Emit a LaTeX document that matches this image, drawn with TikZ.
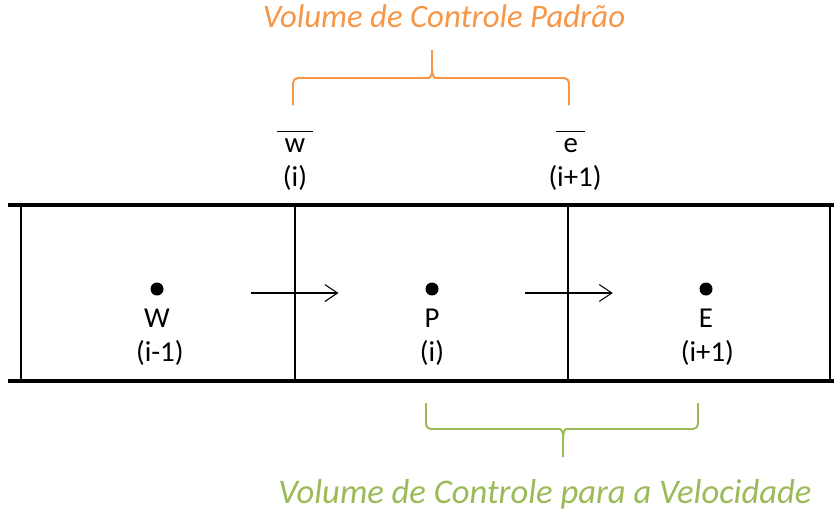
\documentclass[tikz,border=0pt]{standalone}
\usepackage{fontspec}
\setmainfont{Carlito}
\usetikzlibrary{arrows.meta, positioning, calc}
\definecolor{CVorange}{HTML}{F79646}
\definecolor{CVgreen}{HTML}{9BBB59}
\newcommand{\facebar}[1]{$\overline{\hbox{\vphantom{l}\hspace{0.25em}#1\hspace{0.25em}}}$}

\begin{document}
\begin{tikzpicture}[
    x=0.025cm, y=-0.025cm,
    wall_line/.style={
        draw=black,
        line width=2.5pt
    },
    face_line/.style={
        draw=black,
        line width=0.9pt
    },
    point_dot/.style={
        circle,
        fill=black,
        inner sep=0pt,
        minimum size=0.325cm
    },
    cell_label/.style={
        font=\fontsize{20.5}{24}\selectfont,
        inner sep=0pt,
        color=black
    },
    flow_arrow/.style={
        -{Straight Barb[length=9pt, width=12pt]},
        line width=0.75pt,
        color=black
    },
    brace_line/.style={
        line width=1.4pt,
        rounded corners=3.5pt
    },
    brace_title/.style={
        font=\fontsize{24}{28}\selectfont\itshape,
        inner sep=0pt,
        anchor=base
    }
]
\useasboundingbox (0,0) rectangle (834,515);

% =========================
% CHANNEL
% =========================
\draw[wall_line] (8,205) -- (834,205);
\draw[wall_line] (8,381) -- (834,381);

\coordinate (fw_top) at (295,205);
\coordinate (fw_bot) at (295,381);
\coordinate (fe_top) at (568,205);
\coordinate (fe_bot) at (568,381);

\draw[face_line] (21,205) -- (21,381);
\draw[face_line] (fw_top) -- (fw_bot);
\draw[face_line] (fe_top) -- (fe_bot);
\draw[face_line] (830,205) -- (830,381);

% =========================
% NODAL POINTS
% =========================
\node[point_dot] (W) at (157,289) {};
\node[point_dot] (P) at (432,289) {};
\node[point_dot] (E) at (706,289) {};

\node[cell_label, below=0.79cm of W, anchor=base] (W_name) {W};
\node[cell_label, below=0.85cm of W_name.base, anchor=base, xshift=2pt] (W_idx) {(i-1)};
\node[cell_label, below=0.79cm of P, anchor=base] (P_name) {P};
\node[cell_label, below=0.85cm of P_name.base, anchor=base] (P_idx) {(i)};
\node[cell_label, below=0.79cm of E, anchor=base] (E_name) {E};
\node[cell_label, below=0.85cm of E_name.base, anchor=base, xshift=1pt] (E_idx) {(i+1)};

% =========================
% FACES
% =========================
\node[cell_label, above=1.3cm of fw_top, anchor=base] (w_name) {\facebar{w}};
\node[cell_label, below=0.825cm of w_name.base, anchor=base] (w_idx) {(i)};
\node[cell_label, above=1.3cm of fe_top, anchor=base, xshift=2pt] (e_name) {\facebar{e}};
\node[cell_label, below=0.825cm of e_name.base, anchor=base, xshift=3pt] (e_idx) {(i+1)};

% =========================
% VELOCITIES
% =========================
\draw[flow_arrow] ($(W)!0.34!(P)+(0,4)$) -- ($(W)!0.66!(P)+(0,4)$);
\draw[flow_arrow] ($(P)!0.34!(E)+(0,4)$) -- ($(P)!0.66!(E)+(0,4)$);

% =========================
% BRACES
% =========================
% standard control volume
\draw[brace_line, CVorange]
    (293,105) |- (424,78) .. controls (430,78) and (432,75) .. (432,68) -- (432,50);
\draw[brace_line, CVorange]
    (432,68) .. controls (432,75) and (434,78) .. (440,78) -| (569,105);
\node[brace_title, text=CVorange, font=\fontsize{23.3}{28}\selectfont\itshape] (std_title) at (444,27)
    {Volume de Controle Padrão};

% velocity control volume
\draw[brace_line, CVgreen]
    (426,403) |- (555,429) .. controls (561,429) and (563,432) .. (563,439) -- (563,457);
\draw[brace_line, CVgreen]
    (563,439) .. controls (563,432) and (565,429) .. (571,429) -| (698,403);
\node[brace_title, text=CVgreen, font=\fontsize{24.6}{28}\selectfont\itshape] (vel_title) at (545,503)
    {Volume de Controle para a Velocidade};

\end{tikzpicture}
\end{document}
